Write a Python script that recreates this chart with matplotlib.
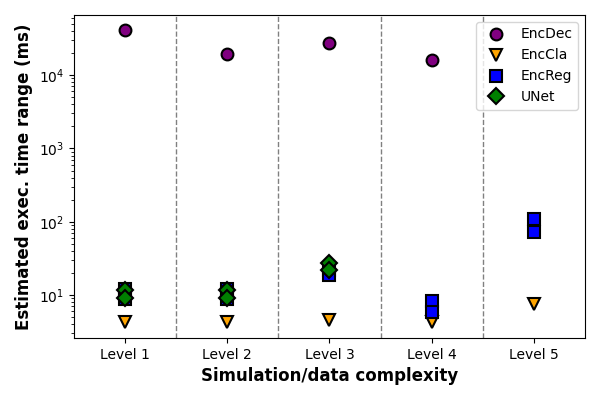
import matplotlib
matplotlib.use("Agg")
import matplotlib.pyplot as plt

levels = ["Level 1", "Level 2", "Level 3", "Level 4", "Level 5"]
x_pos = [1, 2, 3, 4, 5]

# per-level lists of values (range endpoints)
encdec = [[41000], [19500], [27500], [16000], []]
enccla = [[4.35], [4.35], [4.6], [4.35], [7.5]]
encreg = [[12, 8.8], [12, 8.8], [22, 18.8], [8.3, 5.9], [109, 73]]
unet = [[11.7, 9.1], [11.7, 9.1], [27.3, 21.9], [], []]

series = [
    ("EncDec", encdec, "o", "purple"),
    ("EncCla", enccla, "v", "orange"),
    ("EncReg", encreg, "s", "blue"),
    ("UNet", unet, "D", "green"),
]

fig, ax = plt.subplots(figsize=(6, 4), dpi=100)
for name, data, marker, color in series:
    xs, ys = [], []
    for xp, vals in zip(x_pos, data):
        for v in vals:
            xs.append(xp)
            ys.append(v)
    ax.plot(xs, ys, linestyle="none", marker=marker, markersize=8.5,
            markerfacecolor=color, markeredgecolor="black",
            markeredgewidth=1.5, label=name)

for b in [1.5, 2.5, 3.5, 4.5]:
    ax.axvline(b, color="gray", linestyle="--", linewidth=1)

ax.set_yscale("log")
ax.set_xlim(0.5, 5.5)
ax.set_ylim(2.6, 66000)
ax.set_xticks(x_pos)
ax.set_xticklabels(levels)
ax.set_xlabel("Simulation/data complexity", fontsize=12, fontweight="bold")
ax.set_ylabel("Estimated exec. time range (ms)", fontsize=12, fontweight="bold")
ax.legend(loc="upper right")
fig.subplots_adjust(left=0.123, right=0.975, top=0.9625, bottom=0.155)
fig.savefig("out.png", dpi=100)
